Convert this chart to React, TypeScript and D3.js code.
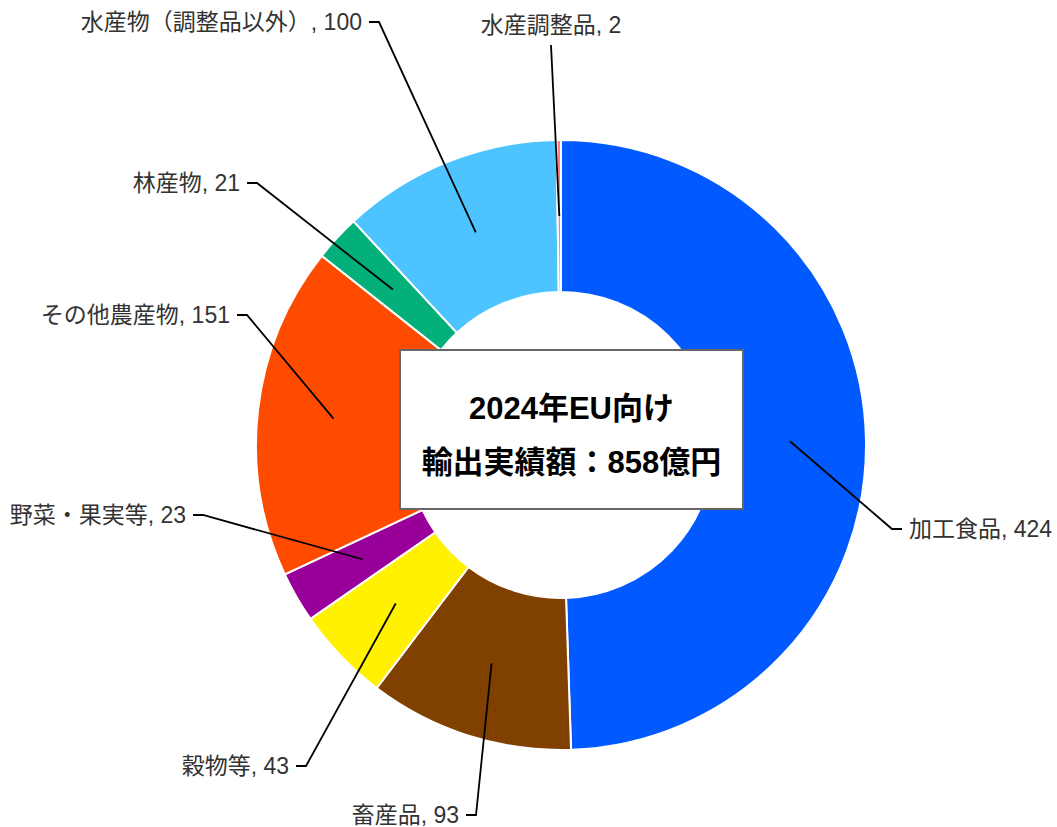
import React from "react";
import * as d3 from "d3";

const categories = [
  "加工食品",
  "畜産品",
  "穀物等",
  "野菜・果実等",
  "その他農産物",
  "林産物",
  "水産物（調整品以外）",
  "水産調整品",
];
const values = [424, 93, 43, 23, 151, 21, 100, 2];
const colors = ["#005AFF", "#804000", "#FFF100", "#990099", "#FF4B00", "#03AF7A", "#4DC4FF", "#FF8082"];
const titleLines = ["2024年EU向け", "輸出実績額：858億円"];

// label anchor (elbow) positions, relative to the donut centre; mode: side label or top label
const labelLayout = [
  { dx: 331, dy: 84, mode: "side" },
  { dx: -85, dy: 370, mode: "side" },
  { dx: -255, dy: 321, mode: "side" },
  { dx: -358, dy: 70, mode: "side" },
  { dx: -314, dy: -130, mode: "side" },
  { dx: -304, dy: -262, mode: "side" },
  { dx: -182, dy: -423, mode: "side" },
  { dx: -10, dy: -400, mode: "top" },
];

const W = 1057;
const H = 827;
const cx = 561;
const cy = 445;
const rOut = 305;
const rIn = 153;
const FONT = "'Liberation Sans', Arial, 'Noto Sans CJK JP', sans-serif";

export default function App() {
  const pie = d3
    .pie<number>()
    .sort(null)
    .value((d) => d);
  const arcs = pie(values);
  const arcGen = d3.arc<d3.PieArcDatum<number>>().innerRadius(rIn).outerRadius(rOut);

  return (
    <svg
      width={W}
      height={H}
      style={{ position: "absolute", left: 0, top: 0, background: "#fff" }}
      fontFamily={FONT}
    >
      <g transform={`translate(${cx},${cy})`}>
        {arcs.map((a, i) => (
          <path key={i} d={arcGen(a) || ""} fill={colors[i]} stroke="#fff" strokeWidth={2} />
        ))}
        {arcs.map((a, i) => {
          const [sx, sy] = arcGen.centroid(a);
          const L = labelLayout[i];
          const label = `${categories[i]}, ${values[i]}`;
          if (L.mode === "top") {
            return (
              <g key={i}>
                <path d={`M${sx},${sy}L${L.dx},${L.dy}`} stroke="#000" strokeWidth={1.8} fill="none" />
                <text x={L.dx} y={L.dy - 12} textAnchor="middle" fontSize={23} fill="#333">
                  {label}
                </text>
              </g>
            );
          }
          const right = L.dx > 0;
          const ex = L.dx + (right ? 10 : -10);
          return (
            <g key={i}>
              <path
                d={`M${sx},${sy}L${L.dx},${L.dy}L${ex},${L.dy}`}
                stroke="#000"
                strokeWidth={1.8}
                fill="none"
              />
              <text
                x={ex + (right ? 7 : -7)}
                y={L.dy + 8}
                textAnchor={right ? "start" : "end"}
                fontSize={23}
                fill="#333"
              >
                {label}
              </text>
            </g>
          );
        })}
      </g>
      <rect x={400} y={350} width={343} height={159} fill="#fff" stroke="#666" strokeWidth={2} />
      {titleLines.map((t, i) => (
        <text
          key={i}
          x={571.5}
          y={419 + i * 54}
          textAnchor="middle"
          fontSize={31}
          fontWeight="bold"
          fill="#000"
        >
          {t}
        </text>
      ))}
    </svg>
  );
}
